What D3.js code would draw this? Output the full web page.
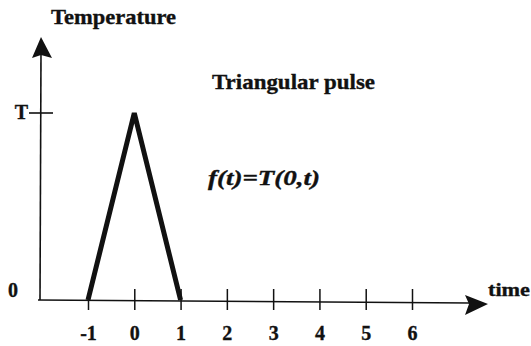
<!DOCTYPE html>
<html>
<head>
<meta charset="utf-8">
<script src="https://cdn.jsdelivr.net/npm/d3@7"></script>
<style>
  html, body { margin: 0; padding: 0; background: #fff; }
  svg { display: block; }
  text { font-family: "Liberation Serif", "Times New Roman", serif; font-weight: bold; fill: #111; stroke: #111; stroke-width: 0.35px; }
</style>
</head>
<body>
<svg id="chart" width="531" height="346"></svg>
<script>
// Triangular temperature pulse f(t) = T(0,t), in units of the peak T
const pulseTimes = [-1, 0, 1];
const pulseValues = [0, 1, 0];

// Axis tick values and labels
const timeTicks = [-1, 0, 1, 2, 3, 4, 5, 6];
const tempTickValues = [0, 1];
const tempTickLabels = ["0", "T"];

const svg = d3.select("#chart");
const ink = "#111";

const x = d3.scaleLinear().domain([-1, 6]).range([88, 412]);
const y = d3.scaleLinear().domain([0, 1]).range([300, 113]);

const originX = 40, originY = y(0);

// Time axis with arrow
svg.append("line")
  .attr("x1", originX - 2).attr("y1", originY)
  .attr("x2", 470).attr("y2", originY + 3)
  .attr("stroke", ink).attr("stroke-width", 1.6);
svg.append("path")
  .attr("d", `M465,${originY - 5} L488,${originY + 4} L465,${originY + 15} L469,${originY + 4} Z`)
  .attr("fill", ink);

// Temperature axis with arrow
svg.append("line")
  .attr("x1", originX).attr("y1", originY)
  .attr("x2", originX + 1).attr("y2", 52)
  .attr("stroke", ink).attr("stroke-width", 1.6);
svg.append("path")
  .attr("d", "M41,37 L52,58 L41,55 L32,58 Z")
  .attr("fill", ink);

// Time ticks crossing the axis
const xAxis = d3.axisBottom(x).tickValues(timeTicks).tickSize(10).tickPadding(0).tickFormat(d => d);
const gx = svg.append("g").attr("transform", `translate(0,${originY})`).call(xAxis);
gx.select(".domain").remove();
gx.selectAll(".tick line")
  .attr("y1", d => d === -1 ? 0 : -11)
  .attr("y2", 10)
  .attr("stroke", ink).attr("stroke-width", 1.5);
gx.selectAll(".tick text")
  .attr("y", 40).attr("dy", 0)
  .style("font-size", "20px").style("font-family", "Liberation Serif, serif")
  .style("font-weight", "bold").attr("fill", ink).attr("stroke", ink).attr("stroke-width", 0.35);

// Temperature ticks and labels
tempTickValues.forEach((v, i) => {
  if (v !== 0) {
    svg.append("line")
      .attr("x1", originX - 11).attr("x2", originX + 13)
      .attr("y1", y(v)).attr("y2", y(v))
      .attr("stroke", ink).attr("stroke-width", 1.6);
  }
  svg.append("text")
    .attr("x", v === 0 ? 18 : 28)
    .attr("y", y(v) + (v === 0 ? -3 : 6))
    .attr("text-anchor", "end")
    .style("font-size", "20px")
    .text(tempTickLabels[i]);
});

// Pulse
const pulse = d3.line().x((d, i) => x(pulseTimes[i])).y(d => y(d));
svg.append("path")
  .datum(pulseValues)
  .attr("d", pulse)
  .attr("fill", "none")
  .attr("stroke", ink)
  .attr("stroke-width", 5)
  .attr("stroke-linejoin", "miter");

// Labels
svg.append("text").attr("x", 51).attr("y", 24)
  .attr("textLength", 125).attr("lengthAdjust", "spacingAndGlyphs")
  .style("font-size", "21px").text("Temperature");
svg.append("text").attr("x", 212).attr("y", 89)
  .attr("textLength", 163).attr("lengthAdjust", "spacingAndGlyphs")
  .style("font-size", "22px").text("Triangular pulse");
svg.append("text").attr("x", 208).attr("y", 185)
  .attr("textLength", 112).attr("lengthAdjust", "spacingAndGlyphs")
  .style("font-size", "21px").style("font-style", "italic")
  .text("f(t)=T(0,t)");
svg.append("text").attr("x", 488).attr("y", 296)
  .attr("textLength", 42).attr("lengthAdjust", "spacingAndGlyphs")
  .style("font-size", "19px").text("time");
</script>
</body>
</html>
